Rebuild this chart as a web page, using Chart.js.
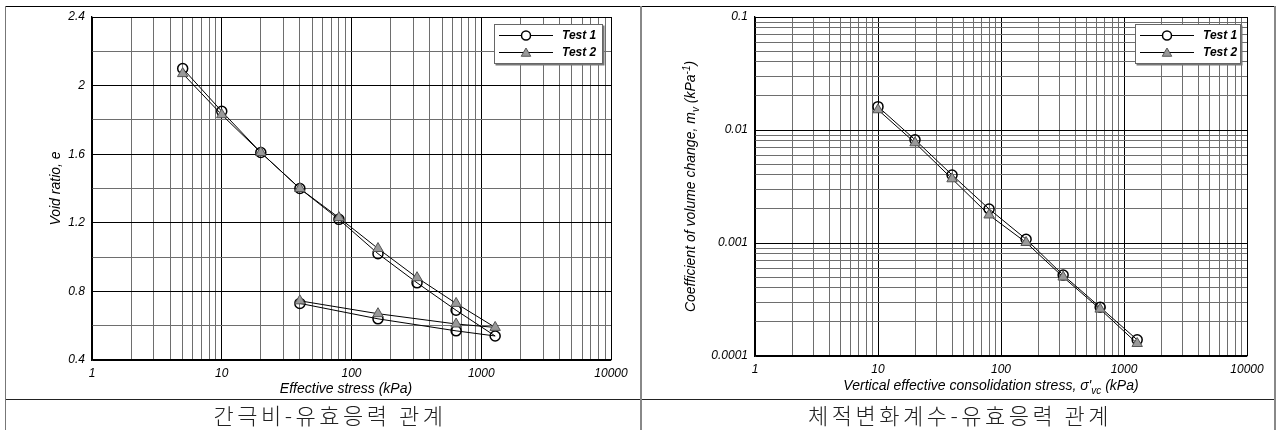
<!DOCTYPE html>
<html>
<head>
<meta charset="utf-8">
<script src="https://cdn.jsdelivr.net/npm/chart.js@4.4.1/dist/chart.umd.min.js"></script>
<style>
body { margin: 0; background: #fff; }
#wrap { position: relative; width: 1276px; height: 430px; overflow: hidden; background: #fff; }
.ln { position: absolute; }
canvas { position: absolute; }
.cap { position: absolute; top: 399px; height: 30px; line-height: 30px; text-align: center;
       font-family: "Noto Sans CJK KR", sans-serif; font-size: 22px; font-weight: 300;
       letter-spacing: 3.5px; color: #222; }
</style>
</head>
<body>
<div id="wrap">
  <div class="ln" style="left:5px;top:6px;width:1271px;height:1px;background:#000"></div>
  <div class="ln" style="left:5px;top:399px;width:1271px;height:1px;background:#222"></div>
  <div class="ln" style="left:5px;top:6px;width:1px;height:430px;background:#777"></div>
  <div class="ln" style="left:640px;top:6px;width:2px;height:430px;background:#888"></div>
  <div class="ln" style="left:1274px;top:6px;width:2px;height:430px;background:#888"></div>
  <canvas id="c1" width="634" height="392" style="left:6px;top:7px"></canvas>
  <canvas id="c2" width="632" height="392" style="left:642px;top:7px"></canvas>
  <div class="cap" style="left:10px;width:640px">간극비-유효응력 관계</div>
  <div class="cap" style="left:644px;width:632px">체적변화계수-유효응력 관계</div>
</div>
<script>
// void ratio vs effective stress (loading then unloading)
const stressE = [5, 10, 20, 40, 80, 160, 320, 640, 1280, 640, 160, 40];
const voidTest1 = [2.10, 1.85, 1.61, 1.40, 1.22, 1.02, 0.85, 0.69, 0.54, 0.57, 0.64, 0.73];
const voidTest2 = [2.07, 1.83, 1.61, 1.40, 1.23, 1.05, 0.88, 0.73, 0.59, 0.61, 0.67, 0.745];

// coefficient of volume change vs consolidation stress
const stressM = [10, 20, 40, 80, 160, 320, 640, 1280];
const mvTest1 = [0.0161, 0.0082, 0.0040, 0.0020, 0.00108, 0.00052, 0.00027, 0.000139];
const mvTest2 = [0.0151, 0.0077, 0.0037, 0.00177, 0.00101, 0.00050, 0.00026, 0.000129];

const seriesNames = ['Test 1', 'Test 2'];

// axis ticks (grid lines) and the ones that carry a label
const xTicks = [1, 2, 3, 4, 5, 6, 7, 8, 9, 10, 20, 30, 40, 50, 60, 70, 80, 90,
  100, 200, 300, 400, 500, 600, 700, 800, 900, 1000, 2000, 3000, 4000, 5000, 6000, 7000, 8000, 9000, 10000];
const xLabelVals = [1, 10, 100, 1000, 10000];
const xLabelText = ['1', '10', '100', '1000', '10000'];

const yTicksE = [0.4, 0.6, 0.8, 1.0, 1.2, 1.4, 1.6, 1.8, 2.0, 2.2, 2.4];
const yLabelValsE = [0.4, 0.8, 1.2, 1.6, 2.0, 2.4];
const yLabelTextE = ['0.4', '0.8', '1.2', '1.6', '2', '2.4'];

const yTicksM = [0.0001, 0.0002, 0.0003, 0.0004, 0.0005, 0.0006, 0.0007, 0.0008, 0.0009,
  0.001, 0.002, 0.003, 0.004, 0.005, 0.006, 0.007, 0.008, 0.009,
  0.01, 0.02, 0.03, 0.04, 0.05, 0.06, 0.07, 0.08, 0.09, 0.1];
const yLabelValsM = [0.0001, 0.001, 0.01, 0.1];
const yLabelTextM = ['0.0001', '0.001', '0.01', '0.1'];

const FONT = '"Liberation Sans", Arial, sans-serif';
const tickFont = { family: FONT, size: 12, style: 'italic' };

function findLabel(v, vals) {
  for (let i = 0; i < vals.length; i++) {
    if (Math.abs(v - vals[i]) <= Math.abs(vals[i]) * 1e-6) return i;
  }
  return -1;
}

function makeAxis(type, min, max, ticks, labVals, labText, horizontal, size, pad) {
  return {
    type: type, min: min, max: max,
    afterBuildTicks: s => { s.ticks = ticks.map(v => ({ value: v })); },
    afterFit: s => {
      if (horizontal) s.height = size; else s.width = size;
      s.paddingLeft = 0; s.paddingRight = 0; s.paddingTop = 0; s.paddingBottom = 0;
    },
    ticks: {
      autoSkip: false, maxRotation: 0, minRotation: 0, padding: pad,
      color: '#000', font: tickFont,
      callback: v => { const i = findLabel(v, labVals); return i >= 0 ? labText[i] : ''; }
    },
    grid: {
      drawTicks: false, lineWidth: 1,
      color: c => (c.tick && findLabel(c.tick.value, labVals) >= 0) ? '#000' : '#6e6e6e'
    },
    border: { color: '#000', width: 1.3 },
    title: { display: false }
  };
}

function toPoints(xs, ys) {
  return xs.map((x, i) => ({ x: x, y: ys[i] }));
}

function datasetsFor(xs, y1, y2) {
  return [
    {
      label: seriesNames[0], data: toPoints(xs, y1), showLine: true, order: 1,
      borderColor: '#000', borderWidth: 1, tension: 0,
      pointStyle: 'circle', pointRadius: 5, pointBorderWidth: 1.5,
      pointBorderColor: '#000', pointBackgroundColor: 'rgba(255,255,255,0)'
    },
    {
      label: seriesNames[1], data: toPoints(xs, y2), showLine: true, order: 0,
      borderColor: '#000', borderWidth: 1, tension: 0,
      pointStyle: 'triangle', pointRadius: 6, pointBorderWidth: 1,
      pointBorderColor: '#555', pointBackgroundColor: '#999'
    }
  ];
}

// text with sub/superscript parts: [text, 0 normal | 1 sub | 2 sup]
function drawRich(ctx, parts, size, x, y, rot) {
  const small = Math.round(size * 0.72);
  const f = s => 'italic ' + s + 'px ' + FONT;
  let w = 0;
  parts.forEach(p => { ctx.font = f(p[1] ? small : size); w += ctx.measureText(p[0]).width; });
  ctx.save();
  ctx.translate(x, y);
  if (rot) ctx.rotate(-Math.PI / 2);
  ctx.fillStyle = '#000';
  ctx.textBaseline = 'alphabetic';
  ctx.textAlign = 'left';
  let cx = -w / 2;
  const base = size * 0.36;
  parts.forEach(p => {
    ctx.font = f(p[1] ? small : size);
    const dy = p[1] === 1 ? size * 0.25 : p[1] === 2 ? -size * 0.38 : 0;
    ctx.fillText(p[0], cx, base + dy);
    cx += ctx.measureText(p[0]).width;
  });
  ctx.restore();
}

const decorPlugin = {
  id: 'decor',
  afterDraw(chart, args, opts) {
    const ctx = chart.ctx;
    const a = chart.chartArea;
    // axis titles
    drawRich(ctx, opts.yTitle, opts.titleSize, opts.yTitleX, (a.top + a.bottom) / 2, true);
    drawRich(ctx, opts.xTitle, opts.titleSize, opts.xTitleX, opts.xTitleY, false);

    // legend box in the upper right corner of the plot
    const bw = opts.legendW, bh = 40;
    const bx = a.right - opts.legendGap - bw, by = a.top + 7;
    ctx.save();
    ctx.fillStyle = '#777';
    ctx.fillRect(bx + 1.5, by + 1.5, bw, bh);
    ctx.fillStyle = '#fff';
    ctx.fillRect(bx, by, bw, bh);
    ctx.strokeStyle = '#666';
    ctx.lineWidth = 1;
    ctx.strokeRect(bx + 0.5, by + 0.5, bw - 1, bh - 1);
    chart.data.datasets.forEach((ds, i) => {
      const ry = Math.round(by + 11 + i * 17) + 0.5;
      ctx.strokeStyle = '#000';
      ctx.lineWidth = 1;
      ctx.beginPath();
      ctx.moveTo(bx + 5, ry);
      ctx.lineTo(bx + 59, ry);
      ctx.stroke();
      ctx.fillStyle = i === 0 ? '#fff' : ds.pointBackgroundColor;
      ctx.strokeStyle = ds.pointBorderColor;
      ctx.lineWidth = ds.pointBorderWidth;
      Chart.helpers.drawPoint(ctx, {
        pointStyle: ds.pointStyle, radius: ds.pointStyle === 'circle' ? 4.5 : 5.5,
        rotation: 0, borderWidth: ds.pointBorderWidth
      }, bx + 32, ry + (i === 1 ? 1 : 0));
      ctx.fillStyle = '#000';
      ctx.font = 'italic bold 12px ' + FONT;
      ctx.textBaseline = 'middle';
      ctx.textAlign = 'left';
      ctx.fillText(ds.label, bx + 68, ry);
    });
    ctx.restore();
  }
};

function makeChart(id, datasets, xAxis, yAxis, pad, decor) {
  return new Chart(document.getElementById(id), {
    type: 'scatter',
    data: { datasets: datasets },
    options: {
      responsive: false,
      animation: false,
      events: [],
      layout: { padding: pad },
      scales: { x: xAxis, y: yAxis },
      plugins: { legend: { display: false }, tooltip: { enabled: false }, decor: decor }
    },
    plugins: [decorPlugin]
  });
}

makeChart('c1', datasetsFor(stressE, voidTest1, voidTest2),
  makeAxis('logarithmic', 1, 10000, xTicks, xLabelVals, xLabelText, true, 39, 6),
  makeAxis('linear', 0.4, 2.4, yTicksE, yLabelValsE, yLabelTextE, false, 86, 7),
  { left: 0, top: 10, right: 29, bottom: 0 },
  {
    titleSize: 14, yTitleX: 49, xTitleX: 340, xTitleY: 381, legendW: 109, legendGap: 8,
    yTitle: [['Void ratio, e', 0]],
    xTitle: [['Effective stress (kPa)', 0]]
  });

makeChart('c2', datasetsFor(stressM, mvTest1, mvTest2),
  makeAxis('logarithmic', 1, 10000, xTicks, xLabelVals, xLabelText, true, 43, 6),
  makeAxis('logarithmic', 0.0001, 0.1, yTicksM, yLabelValsM, yLabelTextM, false, 113, 7),
  { left: 0, top: 10, right: 27, bottom: 0 },
  {
    titleSize: 14, yTitleX: 48, xTitleX: 349, xTitleY: 378, legendW: 106, legendGap: 6,
    yTitle: [['Coefficient of volume change, m', 0], ['v', 1], [' (kPa', 0], ['-1', 2], [')', 0]],
    xTitle: [['Vertical effective consolidation stress, \u03c3\'', 0], ['vc', 1], [' (kPa)', 0]]
  });
</script>
</body>
</html>
